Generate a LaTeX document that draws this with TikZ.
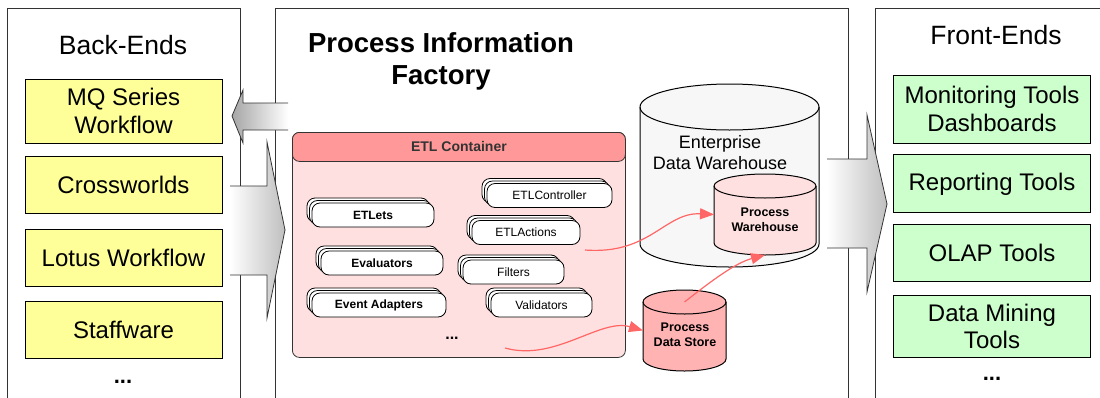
\documentclass[tikz,border=0pt]{standalone}
\usepackage{fontspec}
\setmainfont{Liberation Sans}
\usetikzlibrary{arrows.meta, positioning, shadows}
\definecolor{PanelLine}{HTML}{333333}
\definecolor{BackYellow}{HTML}{FFFF99}
\definecolor{FrontGreen}{HTML}{CCFFCC}
\definecolor{EtlHead}{HTML}{FF9999}
\definecolor{EtlBody}{HTML}{FFE0E0}
\definecolor{StoreRed}{HTML}{FFB3B3}
\definecolor{WarehouseGray}{HTML}{F7F7F7}
\definecolor{FlowRed}{HTML}{FF6666}
\newcommand{\drawcyl}[4]{%
  \draw[line width=1pt, fill=#2] (#1.north west) -- (#1.south west)
    arc[start angle=180, end angle=360, x radius=#3, y radius=#4] -- (#1.north east)
    arc[start angle=0, end angle=180, x radius=#3, y radius=#4] -- cycle;
  \draw[line width=1pt] (#1.north west) arc[start angle=180, end angle=360, x radius=#3, y radius=#4];}

\begin{document}
\begin{tikzpicture}[
    x=1pt, y=-1pt,
    panel/.style={draw=PanelLine, line width=1pt, fill=white, anchor=north west, minimum height=430pt},
    title/.style={font=\fontsize{26.5}{29}\selectfont},
    tool/.style={draw=black, line width=0.8pt, minimum width=197pt, minimum height=57pt, align=center, font=\fontsize{24}{27.5}\selectfont},
    backbox/.style={tool, fill=BackYellow},
    frontbox/.style={tool, fill=FrontGreen},
    moredots/.style={font=\bfseries\fontsize{22}{26}\selectfont},
    etlbox/.style={draw=black, line width=0.8pt, fill=white, rounded corners=8pt, minimum height=24pt, inner sep=2pt,
        font=\fontsize{12}{14}\selectfont, double copy shadow={shadow xshift=-2.5pt, shadow yshift=2.5pt}},
    etlbold/.style={etlbox, font=\bfseries\fontsize{12}{14}\selectfont},
    cylbody/.style={inner sep=0pt, outer sep=0pt},
    storelabel/.style={align=center, font=\bfseries\fontsize{12.5}{14.5}\selectfont},
    blockline/.style={draw=PanelLine, line width=0.8pt},
    flow/.style={draw=FlowRed, line width=1.2pt, -{Triangle[length=14pt, width=11pt]}}
]
\clip (0,0) rectangle (1100,397);

% three columns
\node[panel, minimum width=233pt] (back) at (7,8) {};
\node[panel, minimum width=573pt] (pif) at (275,8) {};
\node[panel, minimum width=240pt] (front) at (875,8) {};

\node[title] (backtitle) at (123,45) {Back-Ends};
\node[title] (fronttitle) at (996,35) {Front-Ends};
\node[align=center, font=\bfseries\fontsize{27.5}{32}\selectfont] (piftitle) at (441,61) {Process Information\\Factory};

\node[backbox, minimum height=64pt] (mq) at (123.5,111) {MQ Series\\Workflow};
\node[backbox, below=13pt of mq] (cross) {Crossworlds};
\node[backbox, below=15pt of cross] (lotus) {Lotus Workflow};
\node[backbox, below=14pt of lotus] (staff) {Staffware};
\node[moredots] (backdots) at (123,382) {...};

\node[frontbox, minimum height=68pt] (monitor) at (992,109) {Monitoring Tools\\Dashboards};
\node[frontbox, minimum height=58pt, below=11pt of monitor] (report) {Reporting Tools};
\node[frontbox, below=11pt of report] (olap) {OLAP Tools};
\node[frontbox, minimum height=62pt, below=13pt of olap] (mining) {Data Mining\\Tools};
\node[moredots] (frontdots) at (992,379) {...};

% block arrows
\shade[left color=black!35, right color=white] (232,116) -- (243,90) -- (243,103) -- (288,103) -- (288,130) -- (243,130) -- (243,143) -- cycle;
\draw[blockline] (288,103) -- (243,103) -- (243,90) -- (232,116) -- (243,143) -- (243,130) -- (288,130);
\shade[left color=white, right color=black!25] (230,186) -- (267,186) -- (267,142) -- (285,230) -- (267,318) -- (267,275) -- (230,275) -- cycle;
\draw[blockline] (230,186) -- (267,186) -- (267,142) -- (285,230) -- (267,318) -- (267,275) -- (230,275);
\shade[left color=white, right color=black!25] (827,159) -- (867,159) -- (867,115) -- (887,204) -- (867,292) -- (867,248) -- (827,248) -- cycle;
\draw[blockline] (827,159) -- (867,159) -- (867,115) -- (887,204) -- (867,292) -- (867,248) -- (827,248);

% ETL container
\node[draw=PanelLine, line width=0.8pt, fill=EtlBody, rounded corners=7pt, minimum width=333pt, minimum height=225pt, anchor=north west] (etl) at (292,132) {};
\node[draw=PanelLine, line width=0.8pt, fill=EtlHead, rounded corners=7pt, minimum width=333pt, minimum height=29pt, anchor=north west,
    font=\bfseries\fontsize{14}{16}\selectfont, text=black!80] (etlhead) at (292,132) {ETL Container};

\node[etlbold, minimum width=122pt] (etlets) at (373,215) {ETLets};
\node[etlbold, minimum width=122pt] (evaluators) at (382,263) {Evaluators};
\node[etlbold, minimum width=134pt] (adapters) at (379,305) {Event Adapters};
\node[etlbox, minimum width=125pt] (controller) at (549.5,195.5) {ETLController};
\node[etlbox, minimum width=108pt] (actions) at (526,232.5) {ETLActions};
\node[etlbox, minimum width=101pt] (filters) at (513.5,272) {Filters};
\node[etlbox, minimum width=101pt] (validators) at (541.5,305) {Validators};
\node[font=\bfseries\fontsize{16}{18}\selectfont] (etldots) at (452,338) {...};

% stores
\node[cylbody, minimum width=179pt, minimum height=137pt] (edw) at (729.5,175.5) {};
\drawcyl{edw}{WarehouseGray}{89.5pt}{23pt}
\node[align=center, font=\fontsize{18}{21}\selectfont] (edwlabel) at (720,153) {Enterprise\\Data Warehouse};
\node[cylbody, minimum width=102pt, minimum height=57pt] (pw) at (765,214.5) {};
\drawcyl{pw}{EtlBody}{51pt}{12pt}
\node[storelabel] (pwlabel) at (765,220) {Process\\Warehouse};
\node[cylbody, minimum width=83pt, minimum height=57pt] (pds) at (684.5,330.5) {};
\drawcyl{pds}{StoreRed}{41.5pt}{12pt}
\node[storelabel] (pdslabel) at (685,335) {Process\\Data Store};

\coordinate (actout) at (585,250);
\coordinate (etlout) at (505,348);
\draw[flow] (actout) .. controls (650,255) and (665,212) .. (pw.west);
\draw[flow] (etlout) .. controls (555,362) and (600,318) .. (pds.west);
\draw[flow] (pds.north) .. controls (710,282) and (735,263) .. ([yshift=-12pt]pw.south);

\end{tikzpicture}
\end{document}
